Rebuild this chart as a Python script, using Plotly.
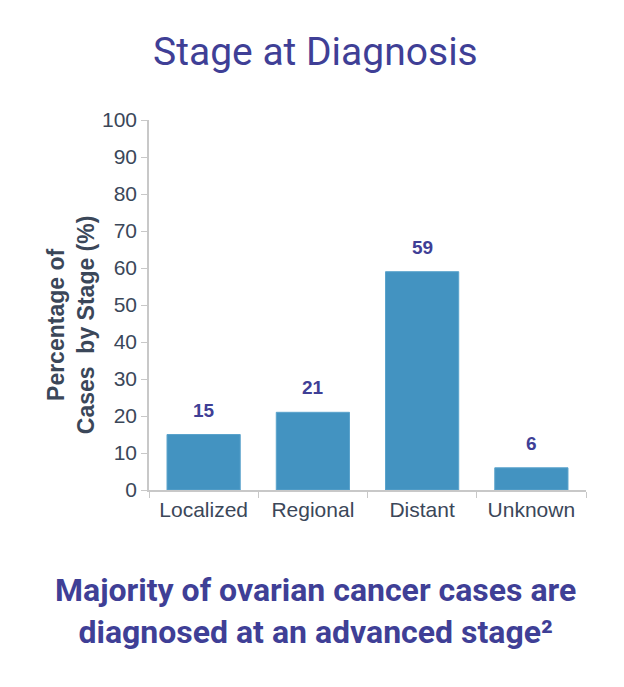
import plotly.graph_objects as go

# Stage at diagnosis data
stages = ["Localized", "Regional", "Distant", "Unknown"]
percentages = [15, 21, 59, 6]
y_ticks = list(range(0, 101, 10))

purple = "#3f3f96"
tick_col = "#3b4759"

fig = go.Figure()
fig.add_trace(go.Bar(
    x=stages,
    y=percentages,
    marker=dict(color="#4393c1", line=dict(color="#5aa3cc", width=1)),
    width=0.67,
))

# value labels above the bars, with a bit more room than textposition gives
for s, v in zip(stages, percentages):
    fig.add_annotation(
        x=s, y=v, text=f"<b>{v}</b>", showarrow=False,
        yanchor="bottom", yshift=12,
        font=dict(family="Liberation Sans", size=19, color=purple),
    )

# page body has an 8px margin, so the margins are shifted to compensate
fig.update_layout(
    width=624,
    height=687,
    margin=dict(l=141, r=46, t=112, b=205),
    paper_bgcolor="white",
    plot_bgcolor="white",
    showlegend=False,
    font=dict(family="Liberation Sans", color=tick_col),
    xaxis=dict(
        automargin=False,
        showline=True, linecolor="#c8c8c8", linewidth=1.5,
        ticks="outside", ticklen=6, tickcolor="#c8c8c8",
        tickson="boundaries",
        tickfont=dict(size=21, color=tick_col),
    ),
    yaxis=dict(
        automargin=False,
        range=[0, 100],
        tickvals=y_ticks,
        showline=True, linecolor="#c8c8c8", linewidth=1.5,
        ticks="outside", ticklen=6, tickcolor="#c8c8c8",
        showgrid=False, zeroline=False,
        tickfont=dict(size=21, color=tick_col),
    ),
)

# y axis title sits a little below the middle of the axis in the original
fig.add_annotation(
    text="<b>Percentage of<br>Cases  by Stage (%)</b>",
    xref="paper", yref="paper", x=-0.178, y=0.446,
    xanchor="center", yanchor="middle", textangle=-90,
    showarrow=False, align="center",
    font=dict(family="Liberation Sans", size=23, color=tick_col),
)
fig.add_annotation(
    text="Stage at Diagnosis", xref="paper", yref="paper",
    x=0.38, y=1.184, xanchor="center", yanchor="middle",
    showarrow=False,
    font=dict(family="Roboto", size=39, color=purple),
)
fig.add_annotation(
    text="<b>Majority of ovarian cancer cases are<br>diagnosed at an advanced stage²</b>",
    xref="paper", yref="paper",
    x=0.38, y=-0.327, xanchor="center", yanchor="middle",
    showarrow=False, align="center",
    font=dict(family="Roboto", size=32, color=purple),
)

fig.write_html("out.html")
